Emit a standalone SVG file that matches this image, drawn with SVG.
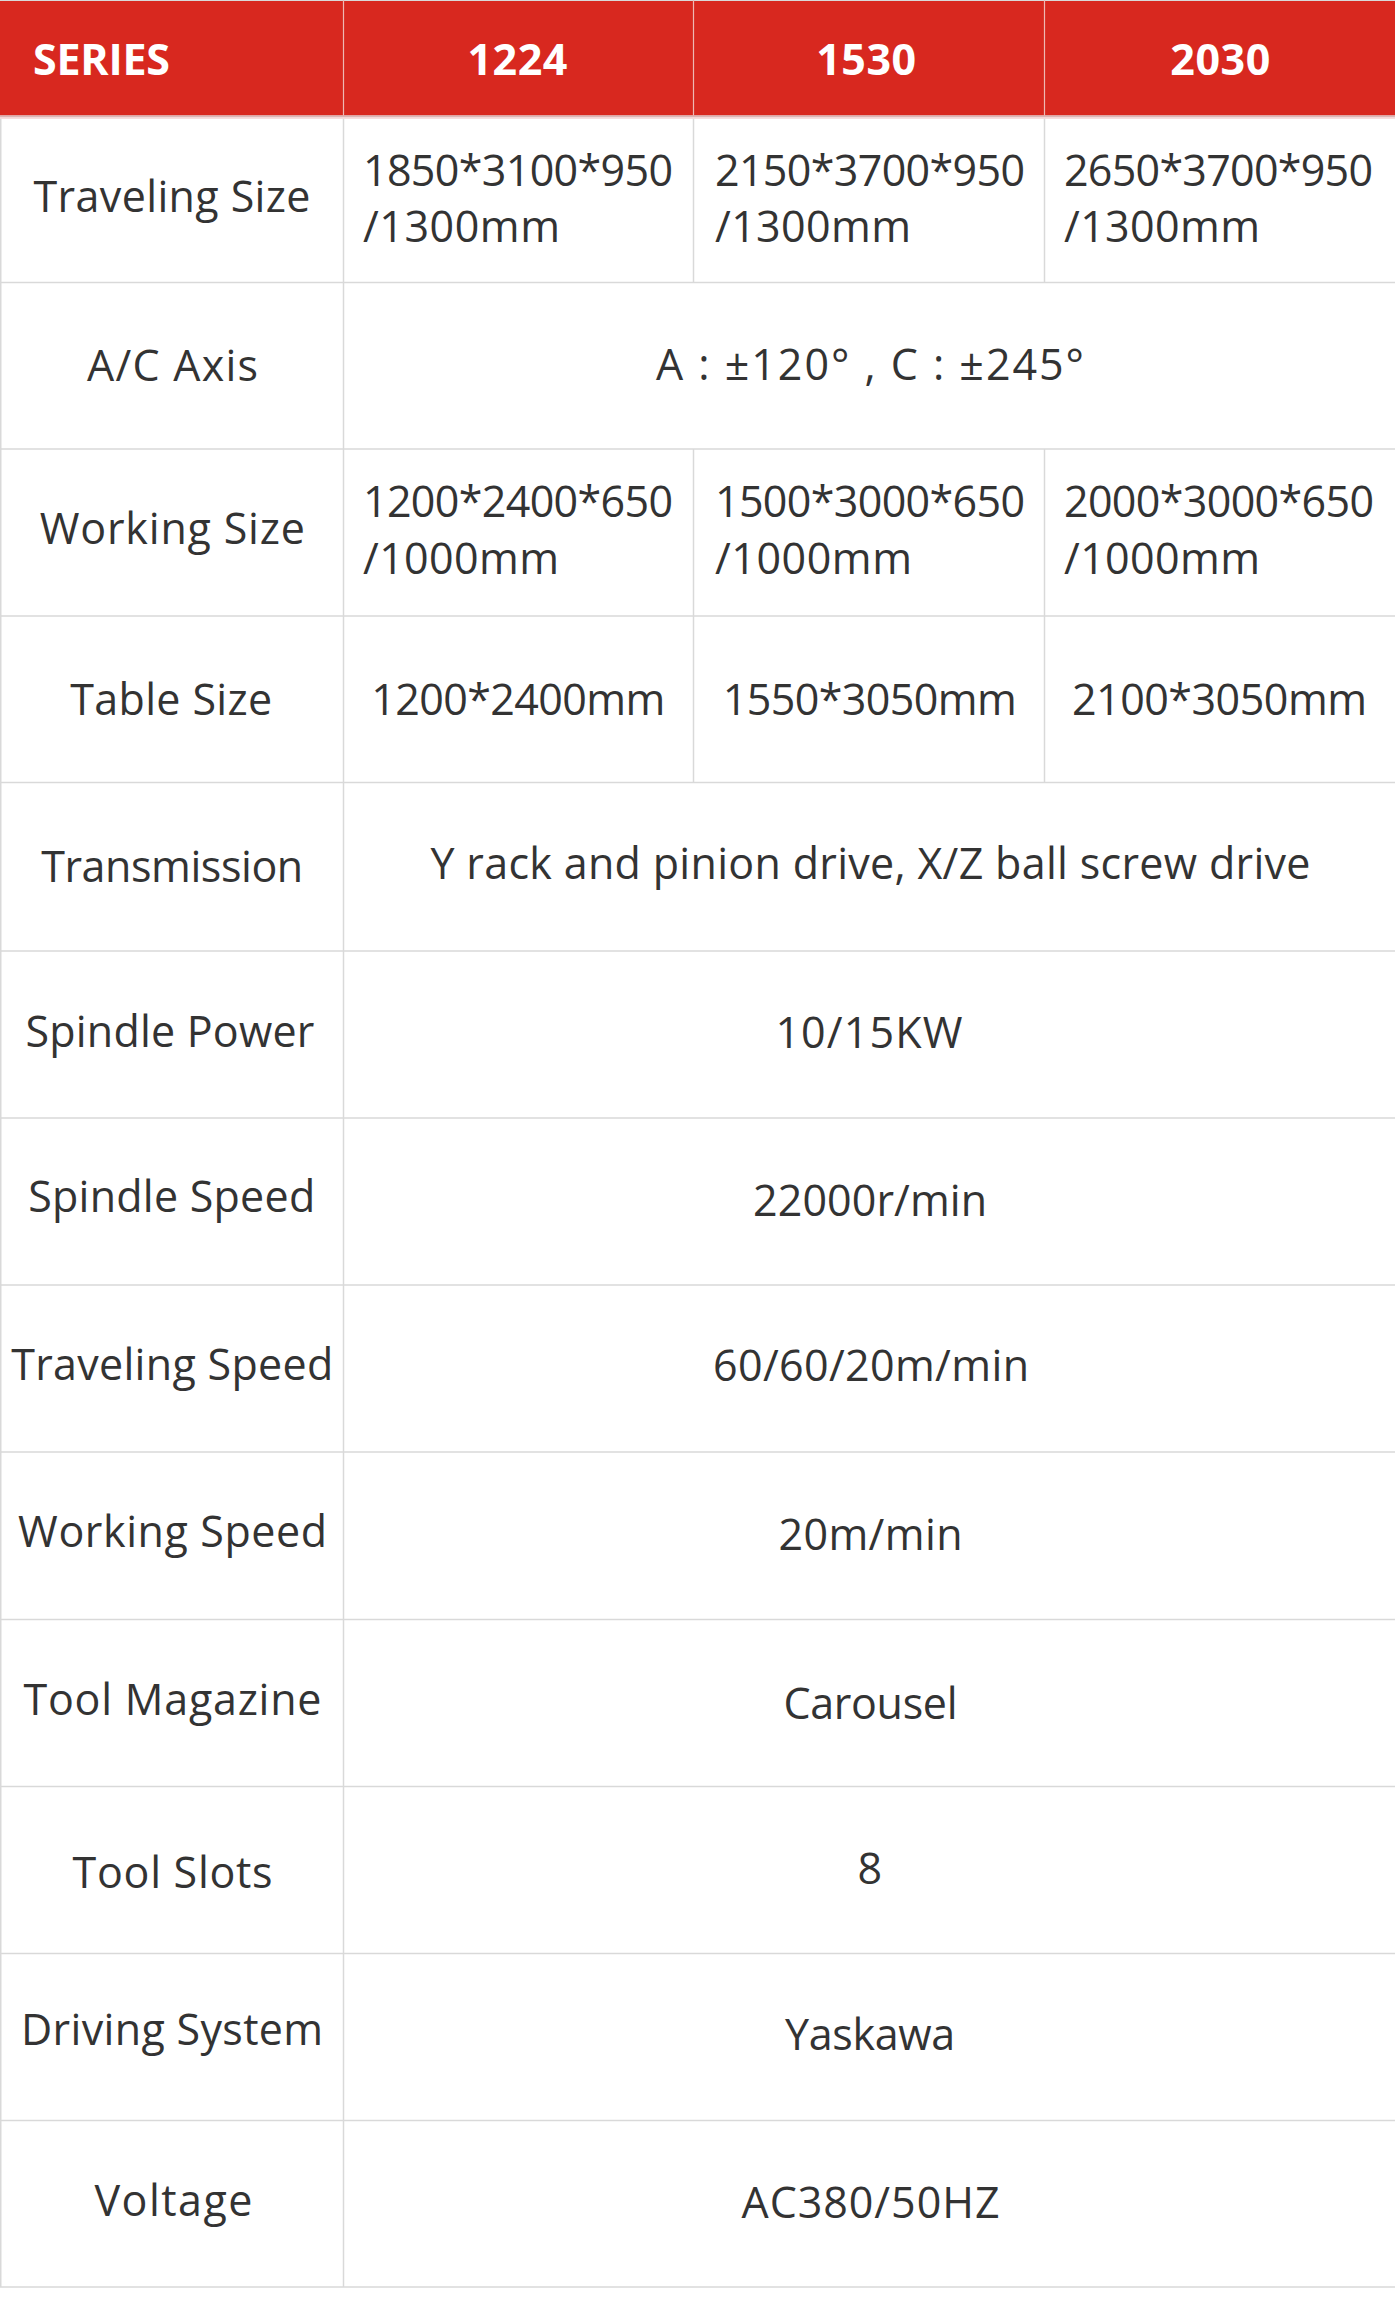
<svg xmlns="http://www.w3.org/2000/svg" width="1395" height="2302" viewBox="0 0 1395 2302">
<style>
.t{font-family:"Open Sans","Noto Sans CJK TC",sans-serif;font-size:43px;fill:#333333}
.h{font-family:"Open Sans","Noto Sans CJK TC",sans-serif;font-size:43px;font-weight:bold;fill:#ffffff}
.m{text-anchor:middle}
.g{stroke:#d9d9d9;stroke-width:1.5;fill:none}
</style>
<rect x="0" y="0" width="1395" height="2302" fill="#ffffff"/>
<g id="header">
<rect x="0" y="0" width="1395" height="115.5" fill="#d8281f"/>
<rect x="0" y="115.5" width="1395" height="1.8" fill="#d8b6b6"/>
<rect x="0" y="117.3" width="1395" height="1.4" fill="#f4cfcf"/>
<rect x="0" y="0" width="1395" height="1" fill="#d9d9d9"/>
<g stroke="#eeb8b4" stroke-width="1.2"><line x1="343.5" y1="0" x2="343.5" y2="115.5"/><line x1="693.5" y1="0" x2="693.5" y2="115.5"/><line x1="1044.5" y1="0" x2="1044.5" y2="115.5"/></g>
<text class="h" x="33" y="75" textLength="137">SERIES</text>
<text class="h m" x="517.4" y="75" textLength="100">1224</text>
<text class="h m" x="866.2" y="75" textLength="100">1530</text>
<text class="h m" x="1220.3" y="75" textLength="100">2030</text>
</g>
<g id="connectors" class="g">
<line x1="0.75" y1="118.7" x2="0.75" y2="2287"/>
<line x1="343.5" y1="118.7" x2="343.5" y2="2287"/>
<line x1="693.5" y1="118.7" x2="693.5" y2="282.5"/>
<line x1="1044.5" y1="118.7" x2="1044.5" y2="282.5"/>
<line x1="693.5" y1="449" x2="693.5" y2="782.5"/>
<line x1="1044.5" y1="449" x2="1044.5" y2="782.5"/>
<line x1="0" y1="282.5" x2="1395" y2="282.5"/>
<line x1="0" y1="449" x2="1395" y2="449"/>
<line x1="0" y1="616" x2="1395" y2="616"/>
<line x1="0" y1="782.5" x2="1395" y2="782.5"/>
<line x1="0" y1="951" x2="1395" y2="951"/>
<line x1="0" y1="1118" x2="1395" y2="1118"/>
<line x1="0" y1="1285" x2="1395" y2="1285"/>
<line x1="0" y1="1452" x2="1395" y2="1452"/>
<line x1="0" y1="1619.5" x2="1395" y2="1619.5"/>
<line x1="0" y1="1786.5" x2="1395" y2="1786.5"/>
<line x1="0" y1="1953.5" x2="1395" y2="1953.5"/>
<line x1="0" y1="2120.5" x2="1395" y2="2120.5"/>
<line x1="0" y1="2287" x2="1395" y2="2287"/>
</g>
<g id="row-traveling-size">
<text class="t m" x="172" y="212" textLength="277">Traveling Size</text>
<text class="t" x="363" y="186" textLength="310">1850*3100*950</text>
<text class="t" x="363" y="242" textLength="197">/1300mm</text>
<text class="t" x="715" y="186" textLength="310">2150*3700*950</text>
<text class="t" x="715" y="242" textLength="196">/1300mm</text>
<text class="t" x="1064" y="186" textLength="309">2650*3700*950</text>
<text class="t" x="1064" y="242" textLength="196">/1300mm</text>
</g>
<g id="row-ac-axis">
<text class="t m" x="172.5" y="380.5" textLength="171">A/C Axis</text>
<text class="t m" x="870" y="380" textLength="428" xml:space="preserve">A : ±120° , C : ±245°</text>
</g>
<g id="row-working-size">
<text class="t m" x="172.3" y="543.7" textLength="265">Working Size</text>
<text class="t" x="363" y="517" textLength="310">1200*2400*650</text>
<text class="t" x="363" y="574" textLength="196">/1000mm</text>
<text class="t" x="715" y="517" textLength="310">1500*3000*650</text>
<text class="t" x="715" y="574" textLength="197">/1000mm</text>
<text class="t" x="1064" y="517" textLength="310">2000*3000*650</text>
<text class="t" x="1064" y="574" textLength="196">/1000mm</text>
</g>
<g id="row-table-size">
<text class="t m" x="171.2" y="715" textLength="202">Table Size</text>
<text class="t m" x="518.3" y="715" textLength="294">1200*2400mm</text>
<text class="t m" x="869.8" y="715" textLength="294">1550*3050mm</text>
<text class="t m" x="1219.5" y="715" textLength="295">2100*3050mm</text>
</g>
<g id="row-transmission">
<text class="t m" x="172.2" y="882" textLength="262">Transmission</text>
<text class="t m" x="870.5" y="878.5" textLength="880">Y rack and pinion drive, X/Z ball screw drive</text>
</g>
<g id="row-spindle-power">
<text class="t m" x="169.9" y="1047" textLength="289">Spindle Power</text>
<text class="t m" x="868.9" y="1048" textLength="187">10/15KW</text>
</g>
<g id="row-spindle-speed">
<text class="t m" x="171.7" y="1212" textLength="287">Spindle Speed</text>
<text class="t m" x="870.1" y="1216" textLength="234">22000r/min</text>
</g>
<g id="row-traveling-speed">
<text class="t m" x="172.2" y="1380" textLength="322">Traveling Speed</text>
<text class="t m" x="871" y="1381" textLength="316">60/60/20m/min</text>
</g>
<g id="row-working-speed">
<text class="t m" x="172.6" y="1547" textLength="309">Working Speed</text>
<text class="t m" x="870.5" y="1550" textLength="184">20m/min</text>
</g>
<g id="row-tool-magazine">
<text class="t m" x="172.5" y="1715" textLength="298">Tool Magazine</text>
<text class="t m" x="870.5" y="1718.5" textLength="174">Carousel</text>
</g>
<g id="row-tool-slots">
<text class="t m" x="172.6" y="1888" textLength="200">Tool Slots</text>
<text class="t m" x="869.7" y="1883.5">8</text>
</g>
<g id="row-driving-system">
<text class="t m" x="172.1" y="2045" textLength="302">Driving System</text>
<text class="t m" x="870.1" y="2050" textLength="170">Yaskawa</text>
</g>
<g id="row-voltage">
<text class="t m" x="173.5" y="2215.5" textLength="158">Voltage</text>
<text class="t m" x="870.5" y="2218" textLength="258">AC380/50HZ</text>
</g>
</svg>
